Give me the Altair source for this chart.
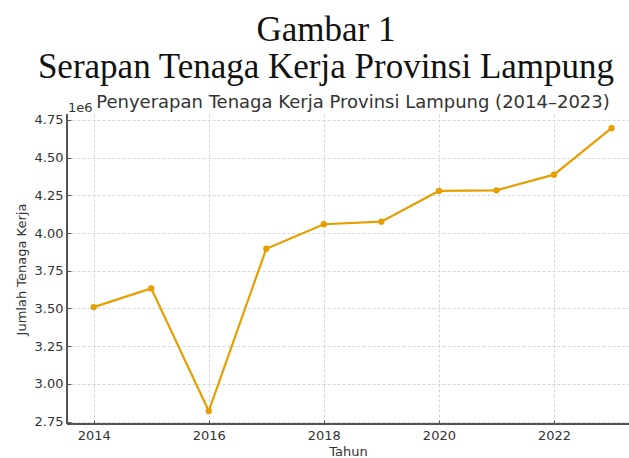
import altair as alt
import pandas as pd

years = [2014, 2015, 2016, 2017, 2018, 2019, 2020, 2021, 2022, 2023]
workers = [3509000, 3633000, 2820000, 3896000, 4058000, 4075000, 4279000, 4283000, 4387000, 4695000]
x_ticks = [2014, 2016, 2018, 2020, 2022]
y_ticks = [2750000, 3000000, 3250000, 3500000, 3750000, 4000000, 4250000, 4500000, 4750000]

df = pd.DataFrame({"Tahun": years, "Jumlah": workers})

W, H = 562, 310
TXT = "#333333"

x_enc = alt.X(
    "Tahun:Q",
    scale=alt.Scale(domain=[2013.536, 2023.304], nice=False, zero=False),
    axis=alt.Axis(
        values=x_ticks, tickCount=20, format="d", title="Tahun", offset=-4, domain=False,
        tickSize=4, tickColor="#555555", tickWidth=1, labelPadding=5,
        titlePadding=3, grid=True, labelOverlap=False,
    ),
)
y_enc = alt.Y(
    "Jumlah:Q",
    scale=alt.Scale(domain=[2734000, 4789000], nice=False, zero=False),
    axis=alt.Axis(
        values=y_ticks, tickCount=20, labelExpr="format(datum.value / 1000000, '.2f')",
        title="Jumlah Tenaga Kerja", offset=-4, domain=False,
        tickSize=4, tickColor="#555555", tickWidth=1, labelPadding=4,
        titlePadding=6, grid=True, labelOverlap=False,
    ),
)

base = alt.Chart(df)
line = base.mark_line(color="#E69F00", strokeWidth=2.2, clip=True).encode(x=x_enc, y=y_enc)
pts = base.mark_point(color="#E69F00", filled=True, opacity=1, size=40, clip=True).encode(x="Tahun:Q", y="Jumlah:Q")

spine_left = alt.Chart(df).mark_rule(color="#555555", strokeWidth=1.5).encode(
    x=alt.value(0), y=alt.value(0), y2=alt.value(H))
spine_bottom = alt.Chart(df).mark_rule(color="#555555", strokeWidth=1.5).encode(
    x=alt.value(0), x2=alt.value(W), y=alt.value(H))

sub_df = pd.DataFrame({"t": ["Penyerapan Tenaga Kerja Provinsi Lampung (2014\u20132023)"]})
subtitle = alt.Chart(sub_df).mark_text(
    font="DejaVu Sans", fontSize=18, color=TXT, align="center", baseline="alphabetic"
).encode(text="t:N", x=alt.value(286), y=alt.value(-6))
exp_df = pd.DataFrame({"t": ["1e6"]})
exponent = alt.Chart(exp_df).mark_text(
    font="DejaVu Sans", fontSize=13, color=TXT, align="left", baseline="alphabetic"
).encode(text="t:N", x=alt.value(1), y=alt.value(-2))

chart = alt.layer(line, pts, spine_left, spine_bottom, subtitle, exponent).properties(
    width=W, height=H,
    title=alt.TitleParams(
        text=["Gambar 1", "Serapan Tenaga Kerja Provinsi Lampung"],
        font="Liberation Serif", fontSize=35, fontWeight="normal", color="#111111",
        anchor="middle", frame="group", dx=-22, lineHeight=37, offset=9,
    ),
    autosize=alt.AutoSizeParams(type="none"),
    padding={"left": 67, "top": 114, "right": 0, "bottom": 34},
).configure_view(stroke=None).configure_axis(
    labelFont="DejaVu Sans", labelFontSize=13, labelColor=TXT,
    titleFont="DejaVu Sans", titleFontSize=13, titleColor=TXT, titleFontWeight="normal",
    gridColor="#cccccc", gridDash=[3, 2], gridWidth=0.8,
)

chart.save("out.html", embed_options={"renderer": "svg", "actions": False})
